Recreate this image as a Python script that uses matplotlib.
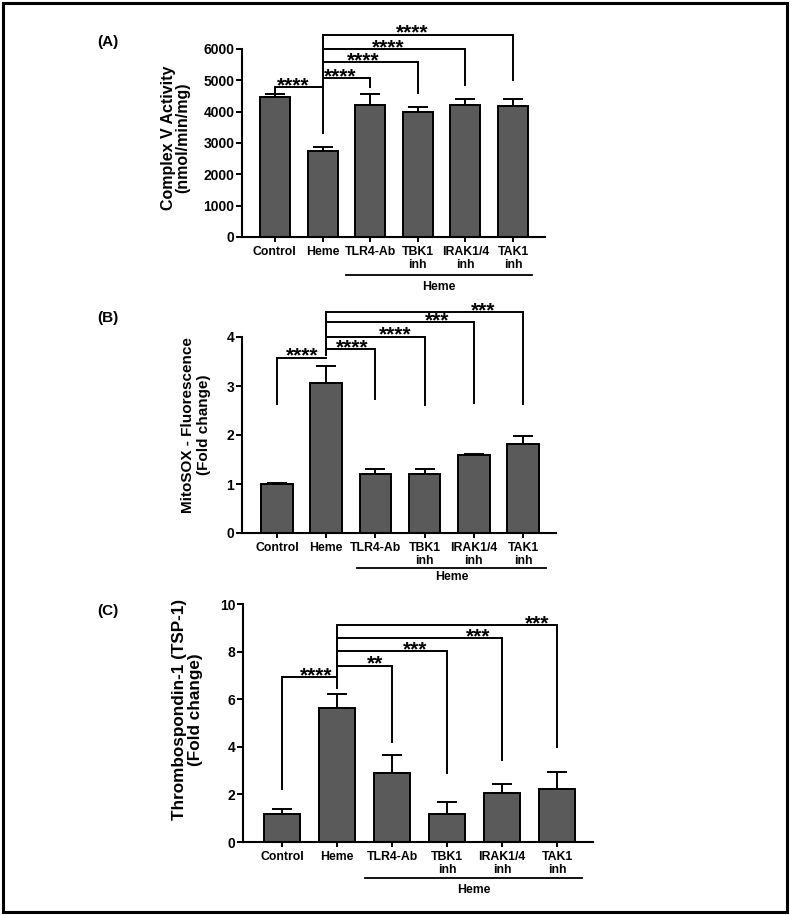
"""Three-panel bar chart: complex V activity, MitoSOX and TSP-1 after heme."""

import matplotlib
matplotlib.use("Agg")
import matplotlib.pyplot as plt
import matplotlib.transforms as mtransforms
from matplotlib.patches import Rectangle

plt.rcParams["font.family"] = ["Liberation Sans", "DejaVu Sans"]
plt.rcParams["font.weight"] = "bold"

groups = ["Control", "Heme", "TLR4-Ab", "TBK1\ninh", "IRAK1/4\ninh", "TAK1\ninh"]

complex_v = [4460, 2755, 4205, 4000, 4225, 4185]
complex_v_err = [100, 105, 365, 140, 170, 210]

mitosox = [0.99, 3.06, 1.20, 1.20, 1.59, 1.81]
mitosox_err = [0.03, 0.34, 0.10, 0.10, 0.03, 0.17]

tsp1 = [1.19, 5.62, 2.90, 1.19, 2.04, 2.23]
tsp1_err = [0.21, 0.60, 0.77, 0.49, 0.40, 0.72]

# (left, right, bracket top, left leg end, right leg end, stars, stars x)
brackets_a = [
    (0, 1, 4780, 4640, 3310, "****", 0.38),
    (1, 2, 5070, 4780, 4780, "****", 1.37),
    (1, 3, 5570, 4780, 4590, "****", 1.85),
    (1, 4, 6000, 4780, 4860, "****", 2.37),
    (1, 5, 6460, 4780, 4995, "****", 2.88),
]
brackets_b = [
    (0, 1, 3.58, 2.63, 3.58, "****", 0.51),
    (1, 2, 3.75, 3.63, 2.73, "****", 1.52),
    (1, 3, 4.01, 3.63, 2.61, "****", 2.40),
    (1, 4, 4.30, 3.63, 2.65, "***", 3.25),
    (1, 5, 4.50, 3.63, 2.63, "***", 4.19),
]
brackets_c = [
    (0, 1, 6.92, 2.23, 6.47, "****", 0.62),
    (1, 2, 7.41, 7.00, 4.19, "**", 1.69),
    (1, 3, 8.01, 7.00, 2.90, "***", 2.42),
    (1, 4, 8.57, 7.00, 3.46, "***", 3.56),
    (1, 5, 9.12, 7.00, 3.99, "***", 4.64),
]

W, H = 790, 915
fig = plt.figure(figsize=(W / 100, H / 100), dpi=100)


def add_axes(left, right, top, bottom):
    return fig.add_axes([left / W, 1 - bottom / H, (right - left) / W, (bottom - top) / H])


def draw_panel(ax, values, errors, brackets, ymax, yticks, xlim, width,
               ylabel, ylabel_size, ylabel_pos, linesp, under, heme_off):
    x = list(range(len(groups)))
    ax.bar(x, values, width=width, color="#5a5a5a", edgecolor="black", linewidth=1.4, zorder=2)
    ax.errorbar(x, values, yerr=[[0] * len(values), errors], fmt="none",
                ecolor="black", elinewidth=1.4, capsize=7.5, capthick=1.4, zorder=1)
    ax.set_xlim(*xlim)
    ax.set_ylim(0, ymax)
    ax.set_yticks(yticks)
    ax.set_xticks(x)
    ax.set_xticklabels(groups, fontsize=8.8, fontweight="bold", linespacing=1.1)
    ax.tick_params(axis="y", labelsize=10, width=1.4, length=4, pad=1.5)
    ax.tick_params(axis="x", width=1.4, length=3.5, pad=3)
    for side in ["top", "right"]:
        ax.spines[side].set_visible(False)
    for side in ["left", "bottom"]:
        ax.spines[side].set_linewidth(1.5)
    ax.set_ylabel(ylabel, fontsize=ylabel_size, fontweight="bold", linespacing=linesp)
    ax.yaxis.set_label_coords(*ylabel_pos)

    for i, j, top, leg_i, leg_j, stars, sx in brackets:
        ax.plot([i, i, j, j], [leg_i, top, top, leg_j], color="black", lw=1.4,
                clip_on=False, solid_joinstyle="miter")
        ax.annotate(stars, (sx, top), xytext=(0, -3), textcoords="offset points",
                    ha="center", va="baseline", fontsize=15, fontweight="bold",
                    annotation_clip=False)

    # underline for the heme-treated groups
    shift = mtransforms.ScaledTranslation(0, -under[2] / 72, fig.dpi_scale_trans)
    ax.plot([under[0], under[1]], [0, 0], color="black", lw=1.3, clip_on=False,
            transform=ax.get_xaxis_transform() + shift)
    ax.annotate("Heme", ((under[0] + under[1]) / 2, 0), xycoords=("data", "axes fraction"),
                xytext=(0, -heme_off), textcoords="offset points", ha="center",
                va="center", fontsize=8.8, fontweight="bold")


ax_a = add_axes(242, 545, 49, 237)
draw_panel(ax_a, complex_v, complex_v_err, brackets_a, 6000,
           [0, 1000, 2000, 3000, 4000, 5000, 6000], (-0.69, 5.67), 0.63,
           "Complex V Activity\n(nmol/min/mg)", 11.5, (-0.17, 0.53), 0.95,
           (1.49, 5.4, 27.4), 36)

ax_b = add_axes(242, 556, 337, 533)
draw_panel(ax_b, mitosox, mitosox_err, brackets_b, 4, [0, 1, 2, 3, 4],
           (-0.71, 5.67), 0.64, "MitoSOX - Fluorescence\n(Fold change)", 11,
           (-0.10, 0.55), 1.1, (1.63, 5.47, 25.2), 31.7)

ax_c = add_axes(243, 593, 604, 842)
draw_panel(ax_c, tsp1, tsp1_err, brackets_c, 10, [0, 2, 4, 6, 8, 10],
           (-0.71, 5.65), 0.65, "Thrombospondin-1 (TSP-1)\n(Fold change)", 12.3,
           (-0.114, 0.555), 1.1, (1.51, 5.45, 26), 34.6)

for label, ypix in [("(A)", 42), ("(B)", 318), ("(C)", 611)]:
    fig.text(97 / W, 1 - ypix / H, label, fontsize=11, fontweight="bold",
             ha="left", va="center")

fig.patches.append(Rectangle((3 / W, 3 / H), 784 / W, 909 / H, transform=fig.transFigure,
                             fill=False, edgecolor="black", linewidth=2.2))

fig.savefig("out.png", dpi=100)
